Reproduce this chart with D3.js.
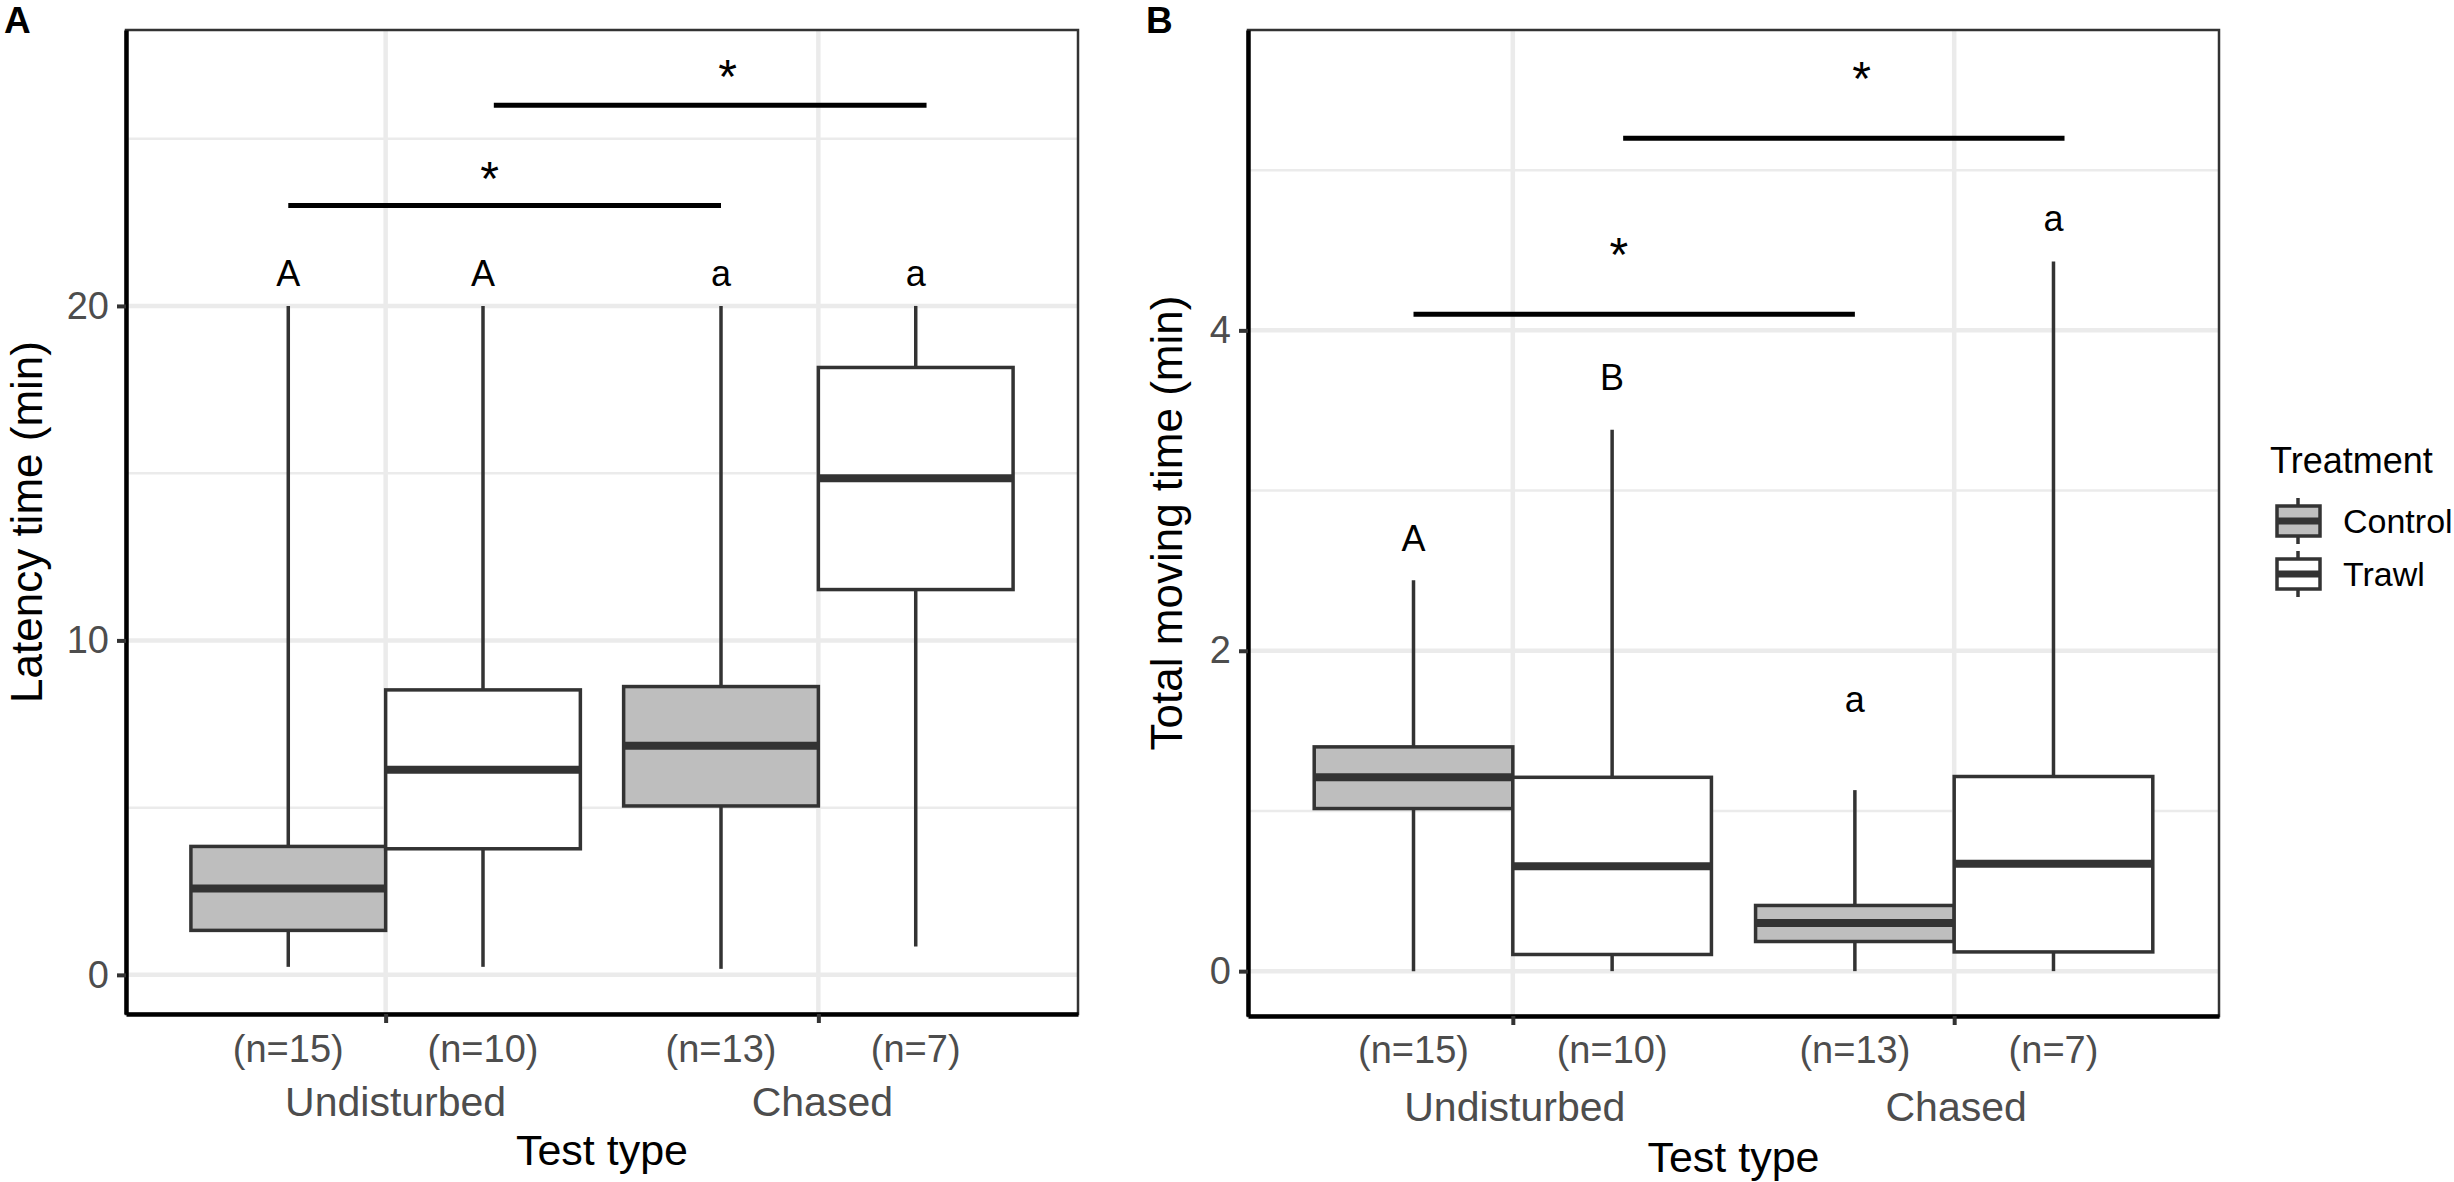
<!DOCTYPE html>
<html>
<head>
<meta charset="utf-8">
<script src="https://cdn.jsdelivr.net/npm/d3@7"></script>
<style>
  body { margin: 0; background: #fff; }
  text { font-family: "Liberation Sans", Arial, Helvetica, sans-serif; }
</style>
</head>
<body>
<svg id="chart" width="2454" height="1182"></svg>
<script>
// categories
const groups = ["Undisturbed", "Chased"];
const treatments = ["Control", "Trawl"];
// box order: Undisturbed-Control, Undisturbed-Trawl, Chased-Control, Chased-Trawl
const sampleSizes = ["(n=15)", "(n=10)", "(n=13)", "(n=7)"];

// panel A: latency time (min)
const latencyLower  = [0.24, 0.24, 0.18, 0.85];
const latencyQ1     = [1.33, 3.77, 5.05, 11.52];
const latencyMedian = [2.58, 6.13, 6.85, 14.85];
const latencyQ3     = [3.84, 8.52, 8.62, 18.16];
const latencyUpper  = [20, 20, 20, 20];
const latencyLetters = ["A", "A", "a", "a"];
const latencyLetterY = [20.6, 20.6, 20.6, 20.6];
const latencyBars  = [[0.775, 1.775, 23.0], [1.25, 2.25, 26.0]];
const latencyStars = [[1.24, 24.0], [1.79, 27.03]];
const latencyTicks = [0, 10, 20];
const latencyMinor = [5, 15, 25];

// panel B: total moving time (min)
const movingLower  = [0, 0, 0, 0];
const movingQ1     = [1.015, 0.104, 0.185, 0.12];
const movingMedian = [1.21, 0.655, 0.30, 0.67];
const movingQ3     = [1.40, 1.21, 0.41, 1.215];
const movingUpper  = [2.44, 3.38, 1.13, 4.43];
const movingLetters = ["A", "B", "a", "a"];
const movingLetterY = [2.62, 3.63, 1.62, 4.62];
const movingBars  = [[0.775, 1.775, 4.10], [1.25, 2.25, 5.20]];
const movingStars = [[1.24, 4.51], [1.79, 5.61]];
const movingTicks = [0, 2, 4];
const movingMinor = [1, 3, 5];

const fills = { Control: "#BEBEBE", Trawl: "#FFFFFF" };
const ink = "#333333";

const svg = d3.select("#chart");
svg.append("rect").attr("width", 2454).attr("height", 1182).attr("fill", "#fff");

function drawPanel(cfg) {
    const x = d3.scaleLinear().domain([0.4, 2.6]).range([cfg.left, cfg.right]);
    const y = d3.scaleLinear().domain(cfg.yDomain).range([cfg.bottom, cfg.top]);
    const g = svg.append("g");

    const boxes = cfg.lower.map((d, i) => ({
        group: groups[Math.floor(i / 2)],
        treatment: treatments[i % 2],
        cx: Math.floor(i / 2) + 1 + (i % 2 === 0 ? -0.225 : 0.225),
        lower: d, q1: cfg.q1[i], median: cfg.median[i], q3: cfg.q3[i], upper: cfg.upper[i],
        letter: cfg.letters[i], letterY: cfg.letterY[i], n: sampleSizes[i]
    }));

    // grid
    g.selectAll(".minor").data(cfg.minor).enter().append("line")
        .attr("x1", cfg.left).attr("x2", cfg.right)
        .attr("y1", d => y(d)).attr("y2", d => y(d))
        .attr("stroke", "#EBEBEB").attr("stroke-width", 2.5);
    g.selectAll(".major").data(cfg.ticks).enter().append("line")
        .attr("x1", cfg.left).attr("x2", cfg.right)
        .attr("y1", d => y(d)).attr("y2", d => y(d))
        .attr("stroke", "#EBEBEB").attr("stroke-width", 4.5);
    g.selectAll(".vmajor").data([1, 2]).enter().append("line")
        .attr("x1", d => x(d)).attr("x2", d => x(d))
        .attr("y1", cfg.top).attr("y2", cfg.bottom)
        .attr("stroke", "#EBEBEB").attr("stroke-width", 4.5);

    // boxplots
    const halfW = 0.225;
    const bx = g.selectAll(".box").data(boxes).enter().append("g");
    bx.append("line")
        .attr("x1", d => x(d.cx)).attr("x2", d => x(d.cx))
        .attr("y1", d => y(d.q3)).attr("y2", d => y(d.upper))
        .attr("stroke", ink).attr("stroke-width", 3.5);
    bx.append("line")
        .attr("x1", d => x(d.cx)).attr("x2", d => x(d.cx))
        .attr("y1", d => y(d.q1)).attr("y2", d => y(d.lower))
        .attr("stroke", ink).attr("stroke-width", 3.5);
    bx.append("rect")
        .attr("x", d => x(d.cx - halfW))
        .attr("width", d => x(d.cx + halfW) - x(d.cx - halfW))
        .attr("y", d => y(d.q3))
        .attr("height", d => y(d.q1) - y(d.q3))
        .attr("fill", d => fills[d.treatment])
        .attr("stroke", ink).attr("stroke-width", 3.5);
    bx.append("line")
        .attr("x1", d => x(d.cx - halfW)).attr("x2", d => x(d.cx + halfW))
        .attr("y1", d => y(d.median)).attr("y2", d => y(d.median))
        .attr("stroke", ink).attr("stroke-width", 8);

    // letters above boxes
    g.selectAll(".letter").data(boxes).enter().append("text")
        .attr("x", d => x(d.cx)).attr("y", d => y(d.letterY))
        .attr("text-anchor", "middle").attr("font-size", 36).attr("fill", "#000")
        .text(d => d.letter);

    // significance bars
    g.selectAll(".bar").data(cfg.bars).enter().append("line")
        .attr("x1", d => x(d[0])).attr("x2", d => x(d[1]))
        .attr("y1", d => y(d[2])).attr("y2", d => y(d[2]))
        .attr("stroke", "#000").attr("stroke-width", 5);
    g.selectAll(".star").data(cfg.stars).enter().append("text")
        .attr("x", d => x(d[0])).attr("y", d => y(d[1]) + 0.47 * 48)
        .attr("text-anchor", "middle").attr("font-size", 48).attr("fill", "#000")
        .text("*");

    // panel border (top/right)
    g.append("rect")
        .attr("x", cfg.left).attr("y", cfg.top)
        .attr("width", cfg.right - cfg.left).attr("height", cfg.bottom - cfg.top)
        .attr("fill", "none").attr("stroke", ink).attr("stroke-width", 2.5);

    // y axis
    const yAxis = g.append("g").attr("transform", `translate(${cfg.left},0)`)
        .call(d3.axisLeft(y).tickValues(cfg.ticks).tickFormat(d3.format("d"))
            .tickSize(9).tickSizeOuter(0).tickPadding(8));
    yAxis.select(".domain").attr("stroke", "#000").attr("stroke-width", 4.5);
    yAxis.selectAll(".tick line").attr("stroke", ink).attr("stroke-width", 4);
    yAxis.selectAll(".tick text").attr("font-size", 38).attr("fill", "#4D4D4D")
        .attr("font-family", "Liberation Sans, Arial, sans-serif");

    // x axis
    const xAxis = g.append("g").attr("transform", `translate(0,${cfg.bottom})`)
        .call(d3.axisBottom(x).tickValues([1, 2]).tickFormat("").tickSize(9).tickSizeOuter(0));
    xAxis.select(".domain").attr("stroke", "#000").attr("stroke-width", 4.5);
    xAxis.selectAll(".tick line").attr("stroke", ink).attr("stroke-width", 4);

    g.selectAll(".nlab").data(boxes).enter().append("text")
        .attr("x", d => x(d.cx)).attr("y", cfg.nBaseline)
        .attr("text-anchor", "middle").attr("font-size", 38).attr("fill", "#4D4D4D")
        .text(d => d.n);
    g.selectAll(".glab").data(groups).enter().append("text")
        .attr("x", (d, i) => x(i + 1) + cfg.groupShift[i]).attr("y", cfg.groupBaseline)
        .attr("text-anchor", "middle").attr("font-size", 41).attr("fill", "#4D4D4D")
        .text(d => d);

    // axis titles
    g.append("text")
        .attr("x", (cfg.left + cfg.right) / 2).attr("y", cfg.titleBaseline)
        .attr("text-anchor", "middle").attr("font-size", 43).attr("fill", "#000")
        .text("Test type");
    g.append("text")
        .attr("transform", `translate(${cfg.yTitleX},${(cfg.top + cfg.bottom) / 2}) rotate(-90)`)
        .attr("text-anchor", "middle").attr("font-size", 44).attr("fill", "#000")
        .text(cfg.yTitle);

    // panel tag
    g.append("text")
        .attr("x", cfg.tagX).attr("y", 33)
        .attr("font-size", 37).attr("font-weight", "bold").attr("fill", "#000")
        .text(cfg.tag);
}

drawPanel({
    left: 126, right: 1078, top: 30, bottom: 1014,
    yDomain: [-1.17, 28.25], ticks: latencyTicks, minor: latencyMinor,
    lower: latencyLower, q1: latencyQ1, median: latencyMedian, q3: latencyQ3, upper: latencyUpper,
    letters: latencyLetters, letterY: latencyLetterY,
    bars: latencyBars, stars: latencyStars,
    yTitle: "Latency time (min)", yTitleX: 42,
    tag: "A", tagX: 4,
    nBaseline: 1062, groupBaseline: 1116, titleBaseline: 1165, groupShift: [10, 4]
});

drawPanel({
    left: 1248, right: 2219, top: 30, bottom: 1016,
    yDomain: [-0.28, 5.875], ticks: movingTicks, minor: movingMinor,
    lower: movingLower, q1: movingQ1, median: movingMedian, q3: movingQ3, upper: movingUpper,
    letters: movingLetters, letterY: movingLetterY,
    bars: movingBars, stars: movingStars,
    yTitle: "Total moving time (min)", yTitleX: 1182,
    tag: "B", tagX: 1146,
    nBaseline: 1063, groupBaseline: 1121, titleBaseline: 1172, groupShift: [2, 2]
});

// legend
const legend = svg.append("g");
legend.append("text")
    .attr("x", 2270).attr("y", 473)
    .attr("font-size", 36).attr("fill", "#000")
    .text("Treatment");
const keyY = d3.scalePoint().domain(treatments).range([521, 574]);
const keys = legend.selectAll(".key").data(treatments).enter().append("g");
keys.append("line")
    .attr("x1", 2298).attr("x2", 2298)
    .attr("y1", d => keyY(d) - 23).attr("y2", d => keyY(d) + 23)
    .attr("stroke", ink).attr("stroke-width", 3.5);
keys.append("rect")
    .attr("x", 2277).attr("width", 43)
    .attr("y", d => keyY(d) - 15).attr("height", 30)
    .attr("fill", d => fills[d]).attr("stroke", ink).attr("stroke-width", 3.5);
keys.append("line")
    .attr("x1", 2277).attr("x2", 2320)
    .attr("y1", d => keyY(d)).attr("y2", d => keyY(d))
    .attr("stroke", ink).attr("stroke-width", 7);
keys.append("text")
    .attr("x", 2343).attr("y", d => keyY(d) + 12)
    .attr("font-size", 34).attr("fill", "#000")
    .text(d => d);
</script>
</body>
</html>
